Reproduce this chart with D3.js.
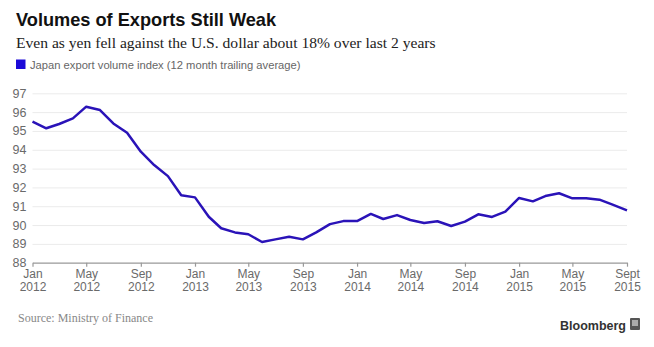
<!DOCTYPE html>
<html>
<head>
<meta charset="utf-8">
<script src="https://cdn.jsdelivr.net/npm/d3@7"></script>
<style>
  html, body { margin: 0; padding: 0; background: #fff; }
  svg { display: block; }
</style>
</head>
<body>
<svg id="chart" width="654" height="347"></svg>
<script>
// Monthly observations, Jan 2012 through Sep 2015
const startMonth = "2012-01";
const exportVolume = [
  95.49, 95.14, 95.37, 95.67, 96.29, 96.11, 95.40, 94.90, 93.90, 93.19, 92.60, 91.58,
  91.47, 90.44, 89.83, 89.61, 89.51, 89.10, 89.24, 89.38, 89.24, 89.61, 90.05, 90.21,
  90.21, 90.59, 90.32, 90.53, 90.27, 90.11, 90.20, 89.95, 90.18, 90.57, 90.43, 90.71,
  91.44, 91.26, 91.54, 91.69, 91.42, 91.42, 91.35, 91.07, 90.78
];
const yTicks = [88, 89, 90, 91, 92, 93, 94, 95, 96, 97];
const xTickMonths = ["2012-01", "2012-05", "2012-09", "2013-01", "2013-05", "2013-09",
                     "2014-01", "2014-05", "2014-09", "2015-01", "2015-05", "2015-09"];
const xTickLabels = [["Jan", "2012"], ["May", "2012"], ["Sep", "2012"], ["Jan", "2013"],
                     ["May", "2013"], ["Sep", "2013"], ["Jan", "2014"], ["May", "2014"],
                     ["Sep", "2014"], ["Jan", "2015"], ["May", "2015"], ["Sept", "2015"]];

const title = "Volumes of Exports Still Weak";
const subtitle = "Even as yen fell against the U.S. dollar about 18% over last 2 years";
const legendLabel = "Japan export volume index (12 month trailing average)";
const source = "Source: Ministry of Finance";

const parseMonth = d3.timeParse("%Y-%m");
const start = parseMonth(startMonth);
const series = exportVolume.map((v, i) => ({ date: d3.timeMonth.offset(start, i), value: v }));

const svg = d3.select("#chart");
const plot = { left: 32.5, right: 627, top: 93.3, bottom: 262.7 };

const x = d3.scaleTime()
  .domain([start, series[series.length - 1].date])
  .range([plot.left, plot.right]);
const y = d3.scaleLinear().domain([88, 97]).range([plot.bottom, plot.top]);

// Header
svg.append("text").attr("x", 16).attr("y", 26)
  .attr("font-family", "'Liberation Sans', Arial, sans-serif")
  .attr("font-weight", "bold").attr("font-size", 18.2).attr("fill", "#111")
  .text(title);
svg.append("text").attr("x", 16).attr("y", 47.5)
  .attr("font-family", "'Liberation Serif', 'DejaVu Serif', serif")
  .attr("font-size", 15.6).attr("fill", "#222")
  .text(subtitle);

// Legend
svg.append("rect").attr("x", 16).attr("y", 59.5).attr("width", 9.5).attr("height", 9.5)
  .attr("fill", "#1c0ad8");
svg.append("text").attr("x", 30).attr("y", 68.5)
  .attr("font-family", "'Liberation Sans', Arial, sans-serif")
  .attr("font-size", 11.2).attr("fill", "#666")
  .text(legendLabel);

// Horizontal gridlines with value labels
const yAxis = d3.axisLeft(y).tickValues(yTicks).tickSize(0).tickPadding(6);
const yg = svg.append("g").attr("transform", `translate(${plot.left},0)`).call(yAxis);
yg.select(".domain").remove();
yg.selectAll(".tick text")
  .attr("font-family", "'Liberation Sans', Arial, sans-serif")
  .attr("font-size", 12.5).attr("fill", "#6a6a6a");
yg.selectAll(".tick").filter(d => d !== 88).append("line")
  .attr("x1", 0).attr("x2", plot.right - plot.left)
  .attr("stroke", "#ebebeb").attr("stroke-width", 1);

// Bottom axis
const xAxis = d3.axisBottom(x)
  .tickValues(xTickMonths.map(parseMonth))
  .tickSize(4).tickSizeOuter(0).tickFormat("");
const xg = svg.append("g").attr("transform", `translate(0,${plot.bottom})`).call(xAxis);
xg.select(".domain").attr("stroke", "#999").attr("stroke-width", 1.2);
xg.selectAll(".tick line").attr("stroke", "#999").attr("stroke-width", 1.2);
xg.selectAll(".tick").each(function(d, i) {
  const t = d3.select(this).append("text")
    .attr("text-anchor", "middle")
    .attr("font-family", "'Liberation Sans', Arial, sans-serif")
    .attr("font-size", 12).attr("fill", "#6a6a6a");
  t.append("tspan").attr("x", 0).attr("y", 15).text(xTickLabels[i][0]);
  t.append("tspan").attr("x", 0).attr("y", 28).text(xTickLabels[i][1]);
});

// Series line
const line = d3.line().x(d => x(d.date)).y(d => y(d.value));
svg.append("path").datum(series)
  .attr("d", line)
  .attr("fill", "none")
  .attr("stroke", "#2a13b8")
  .attr("stroke-width", 2.5)
  .attr("stroke-linejoin", "round");

// Footer
svg.append("text").attr("x", 18).attr("y", 322)
  .attr("font-family", "'Liberation Serif', 'DejaVu Serif', serif")
  .attr("font-size", 12).attr("fill", "#888")
  .text(source);
svg.append("text").attr("x", 626).attr("y", 329.5).attr("text-anchor", "end")
  .attr("font-family", "'Liberation Sans', Arial, sans-serif")
  .attr("font-weight", "bold").attr("font-size", 12.5).attr("fill", "#333")
  .text("Bloomberg");
// Small terminal mark next to the wordmark
const logo = svg.append("g").attr("transform", "translate(630,318)");
logo.append("rect").attr("width", 10).attr("height", 12).attr("rx", 1).attr("fill", "#555");
logo.append("rect").attr("x", 2).attr("y", 2).attr("width", 6).attr("height", 6).attr("fill", "#aaa");
</script>
</body>
</html>
